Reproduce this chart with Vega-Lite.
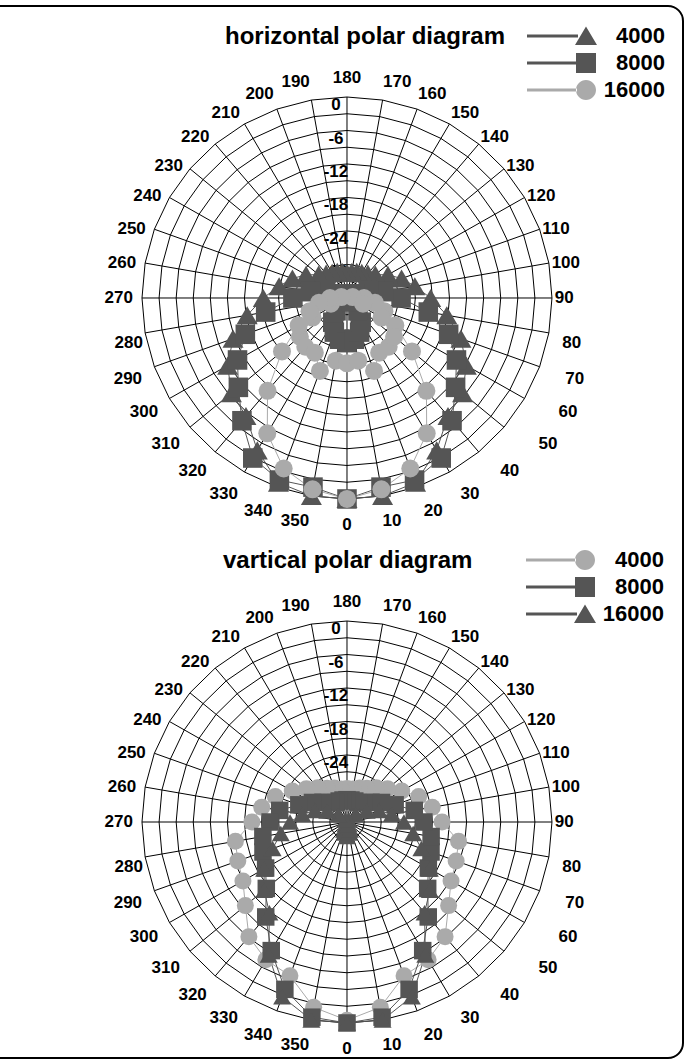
{
  "$schema": "https://vega.github.io/schema/vega-lite/v6.json",
  "width": 703,
  "height": 1052,
  "autosize": {"type": "none"},
  "padding": {"left": -20, "top": 6, "right": 9, "bottom": 5},
  "background": "white",
  "config": {
    "view": {"stroke": "black", "strokeWidth": 2, "cornerRadius": 15, "fill": "white"},
    "text": {"font": "Liberation Sans", "fontWeight": "bold", "fontSize": 17, "color": "black"}
  },
  "datasets": {
    "spokes": [{"a":0},{"a":10},{"a":20},{"a":30},{"a":40},{"a":50},{"a":60},{"a":70},{"a":80},{"a":90},{"a":100},{"a":110},{"a":120},{"a":130},{"a":140},{"a":150},{"a":160},{"a":170},{"a":180},{"a":190},{"a":200},{"a":210},{"a":220},{"a":230},{"a":240},{"a":250},{"a":260},{"a":270},{"a":280},{"a":290},{"a":300},{"a":310},{"a":320},{"a":330},{"a":340},{"a":350}],
    "rings": [
      {"lv":0,"a":[0,10,20,30,40,50,60,70,80,90,100,110,120,130,140,150,160,170,180,190,200,210,220,230,240,250,260,270,280,290,300,310,320,330,340,350,360]},
      {"lv":-3,"a":[0,10,20,30,40,50,60,70,80,90,100,110,120,130,140,150,160,170,180,190,200,210,220,230,240,250,260,270,280,290,300,310,320,330,340,350,360]},
      {"lv":-6,"a":[0,10,20,30,40,50,60,70,80,90,100,110,120,130,140,150,160,170,180,190,200,210,220,230,240,250,260,270,280,290,300,310,320,330,340,350,360]},
      {"lv":-9,"a":[0,10,20,30,40,50,60,70,80,90,100,110,120,130,140,150,160,170,180,190,200,210,220,230,240,250,260,270,280,290,300,310,320,330,340,350,360]},
      {"lv":-12,"a":[0,10,20,30,40,50,60,70,80,90,100,110,120,130,140,150,160,170,180,190,200,210,220,230,240,250,260,270,280,290,300,310,320,330,340,350,360]},
      {"lv":-15,"a":[0,10,20,30,40,50,60,70,80,90,100,110,120,130,140,150,160,170,180,190,200,210,220,230,240,250,260,270,280,290,300,310,320,330,340,350,360]},
      {"lv":-18,"a":[0,10,20,30,40,50,60,70,80,90,100,110,120,130,140,150,160,170,180,190,200,210,220,230,240,250,260,270,280,290,300,310,320,330,340,350,360]},
      {"lv":-21,"a":[0,10,20,30,40,50,60,70,80,90,100,110,120,130,140,150,160,170,180,190,200,210,220,230,240,250,260,270,280,290,300,310,320,330,340,350,360]},
      {"lv":-24,"a":[0,10,20,30,40,50,60,70,80,90,100,110,120,130,140,150,160,170,180,190,200,210,220,230,240,250,260,270,280,290,300,310,320,330,340,350,360]},
      {"lv":-27,"a":[0,10,20,30,40,50,60,70,80,90,100,110,120,130,140,150,160,170,180,190,200,210,220,230,240,250,260,270,280,290,300,310,320,330,340,350,360]},
      {"lv":-30,"a":[0,10,20,30,40,50,60,70,80,90,100,110,120,130,140,150,160,170,180,190,200,210,220,230,240,250,260,270,280,290,300,310,320,330,340,350,360]},
      {"lv":-33,"a":[0,10,20,30,40,50,60,70,80,90,100,110,120,130,140,150,160,170,180,190,200,210,220,230,240,250,260,270,280,290,300,310,320,330,340,350,360]}
    ],
    "rlab": [{"lv":0,"t":"0"},{"lv":-6,"t":"-6"},{"lv":-12,"t":"-12"},{"lv":-18,"t":"-18"},{"lv":-24,"t":"-24"},{"lv":-30,"t":"-30"}],
    "pts": [
      {"d":"h","s":"4000","a":0,"v":0},{"d":"h","s":"4000","a":10,"v":0},{"d":"h","s":"4000","a":20,"v":-0.8},{"d":"h","s":"4000","a":30,"v":-4.5},{"d":"h","s":"4000","a":40,"v":-8.4},{"d":"h","s":"4000","a":50,"v":-9.5},{"d":"h","s":"4000","a":60,"v":-11.8},{"d":"h","s":"4000","a":70,"v":-14.7},{"d":"h","s":"4000","a":80,"v":-18.2},{"d":"h","s":"4000","a":90,"v":-21.3},{"d":"h","s":"4000","a":100,"v":-23.9},{"d":"h","s":"4000","a":110,"v":-25.8},{"d":"h","s":"4000","a":120,"v":-27.7},{"d":"h","s":"4000","a":130,"v":-29.5},{"d":"h","s":"4000","a":140,"v":-30.3},{"d":"h","s":"4000","a":150,"v":-30.8},{"d":"h","s":"4000","a":160,"v":-31},{"d":"h","s":"4000","a":170,"v":-31.3},{"d":"h","s":"4000","a":180,"v":-31.5},{"d":"h","s":"4000","a":190,"v":-31.3},{"d":"h","s":"4000","a":200,"v":-31},{"d":"h","s":"4000","a":210,"v":-30.8},{"d":"h","s":"4000","a":220,"v":-30.3},{"d":"h","s":"4000","a":230,"v":-29.5},{"d":"h","s":"4000","a":240,"v":-27.7},{"d":"h","s":"4000","a":250,"v":-25.8},{"d":"h","s":"4000","a":260,"v":-23.9},{"d":"h","s":"4000","a":270,"v":-21.3},{"d":"h","s":"4000","a":280,"v":-18.2},{"d":"h","s":"4000","a":290,"v":-14.7},{"d":"h","s":"4000","a":300,"v":-11.8},{"d":"h","s":"4000","a":310,"v":-9.5},{"d":"h","s":"4000","a":320,"v":-8.4},{"d":"h","s":"4000","a":330,"v":-4.5},{"d":"h","s":"4000","a":340,"v":-0.8},{"d":"h","s":"4000","a":350,"v":0},{"d":"h","s":"4000","a":360,"v":0},
      {"d":"h","s":"8000","a":0,"v":0},{"d":"h","s":"8000","a":10,"v":-1.6},{"d":"h","s":"8000","a":20,"v":-1.3},{"d":"h","s":"8000","a":30,"v":-2.9},{"d":"h","s":"8000","a":40,"v":-7.3},{"d":"h","s":"8000","a":50,"v":-11.1},{"d":"h","s":"8000","a":60,"v":-13.8},{"d":"h","s":"8000","a":70,"v":-17},{"d":"h","s":"8000","a":80,"v":-21.5},{"d":"h","s":"8000","a":90,"v":-26.5},{"d":"h","s":"8000","a":100,"v":-29.5},{"d":"h","s":"8000","a":110,"v":-32},{"d":"h","s":"8000","a":120,"v":-34.5},{"d":"h","s":"8000","a":130,"v":-37},{"d":"h","s":"8000","a":140,"v":-39},{"d":"h","s":"8000","a":150,"v":-41},{"d":"h","s":"8000","a":160,"v":-42.5},{"d":"h","s":"8000","a":170,"v":-43.5},{"d":"h","s":"8000","a":180,"v":-44},{"d":"h","s":"8000","a":190,"v":-43.5},{"d":"h","s":"8000","a":200,"v":-42.5},{"d":"h","s":"8000","a":210,"v":-41},{"d":"h","s":"8000","a":220,"v":-39},{"d":"h","s":"8000","a":230,"v":-37},{"d":"h","s":"8000","a":240,"v":-34.5},{"d":"h","s":"8000","a":250,"v":-32},{"d":"h","s":"8000","a":260,"v":-29.5},{"d":"h","s":"8000","a":270,"v":-26.5},{"d":"h","s":"8000","a":280,"v":-21.5},{"d":"h","s":"8000","a":290,"v":-17},{"d":"h","s":"8000","a":300,"v":-13.8},{"d":"h","s":"8000","a":310,"v":-11.1},{"d":"h","s":"8000","a":320,"v":-7.3},{"d":"h","s":"8000","a":330,"v":-2.9},{"d":"h","s":"8000","a":340,"v":-1.3},{"d":"h","s":"8000","a":350,"v":-1.6},{"d":"h","s":"8000","a":360,"v":0},
      {"d":"h","s":"16000","a":0,"v":0},{"d":"h","s":"16000","a":10,"v":-1.2},{"d":"h","s":"16000","a":20,"v":-3.5},{"d":"h","s":"16000","a":30,"v":-8},{"d":"h","s":"16000","a":40,"v":-14.3},{"d":"h","s":"16000","a":50,"v":-21.1},{"d":"h","s":"16000","a":60,"v":-26.2},{"d":"h","s":"16000","a":70,"v":-29},{"d":"h","s":"16000","a":80,"v":-31},{"d":"h","s":"16000","a":90,"v":-33},{"d":"h","s":"16000","a":100,"v":-35},{"d":"h","s":"16000","a":110,"v":-39},{"d":"h","s":"16000","a":120,"v":-43},{"d":"h","s":"16000","a":130,"v":-46.8},{"d":"h","s":"16000","a":140,"v":-47.4},{"d":"h","s":"16000","a":150,"v":-47.3},{"d":"h","s":"16000","a":160,"v":-49.9},{"d":"h","s":"16000","a":170,"v":-47.4},{"d":"h","s":"16000","a":180,"v":-47.7},{"d":"h","s":"16000","a":190,"v":-47.4},{"d":"h","s":"16000","a":200,"v":-49.9},{"d":"h","s":"16000","a":210,"v":-47.3},{"d":"h","s":"16000","a":220,"v":-47.4},{"d":"h","s":"16000","a":230,"v":-46.8},{"d":"h","s":"16000","a":240,"v":-43},{"d":"h","s":"16000","a":250,"v":-39},{"d":"h","s":"16000","a":260,"v":-35},{"d":"h","s":"16000","a":270,"v":-33},{"d":"h","s":"16000","a":280,"v":-31},{"d":"h","s":"16000","a":290,"v":-29},{"d":"h","s":"16000","a":300,"v":-26.2},{"d":"h","s":"16000","a":310,"v":-21.1},{"d":"h","s":"16000","a":320,"v":-14.3},{"d":"h","s":"16000","a":330,"v":-8},{"d":"h","s":"16000","a":340,"v":-3.5},{"d":"h","s":"16000","a":350,"v":-1.2},{"d":"h","s":"16000","a":360,"v":0},
      {"d":"v","s":"4000","a":0,"v":-0.5},{"d":"v","s":"4000","a":10,"v":-2.3},{"d":"v","s":"4000","a":20,"v":-6.7},{"d":"v","s":"4000","a":30,"v":-7.5},{"d":"v","s":"4000","a":40,"v":-9.2},{"d":"v","s":"4000","a":50,"v":-12.7},{"d":"v","s":"4000","a":60,"v":-14.9},{"d":"v","s":"4000","a":70,"v":-15.6},{"d":"v","s":"4000","a":80,"v":-16.1},{"d":"v","s":"4000","a":90,"v":-19.3},{"d":"v","s":"4000","a":100,"v":-20.8},{"d":"v","s":"4000","a":110,"v":-22.6},{"d":"v","s":"4000","a":120,"v":-24.9},{"d":"v","s":"4000","a":130,"v":-26.7},{"d":"v","s":"4000","a":140,"v":-28},{"d":"v","s":"4000","a":150,"v":-29},{"d":"v","s":"4000","a":160,"v":-29.5},{"d":"v","s":"4000","a":170,"v":-30},{"d":"v","s":"4000","a":180,"v":-30},{"d":"v","s":"4000","a":190,"v":-30},{"d":"v","s":"4000","a":200,"v":-29.5},{"d":"v","s":"4000","a":210,"v":-29},{"d":"v","s":"4000","a":220,"v":-28},{"d":"v","s":"4000","a":230,"v":-26.7},{"d":"v","s":"4000","a":240,"v":-24.9},{"d":"v","s":"4000","a":250,"v":-22.6},{"d":"v","s":"4000","a":260,"v":-20.8},{"d":"v","s":"4000","a":270,"v":-19.3},{"d":"v","s":"4000","a":280,"v":-16.1},{"d":"v","s":"4000","a":290,"v":-15.6},{"d":"v","s":"4000","a":300,"v":-14.9},{"d":"v","s":"4000","a":310,"v":-12.7},{"d":"v","s":"4000","a":320,"v":-9.2},{"d":"v","s":"4000","a":330,"v":-7.5},{"d":"v","s":"4000","a":340,"v":-6.7},{"d":"v","s":"4000","a":350,"v":-2.3},{"d":"v","s":"4000","a":360,"v":-0.5},
      {"d":"v","s":"8000","a":0,"v":0},{"d":"v","s":"8000","a":10,"v":-0.5},{"d":"v","s":"8000","a":20,"v":-4.1},{"d":"v","s":"8000","a":30,"v":-9.4},{"d":"v","s":"8000","a":40,"v":-13.8},{"d":"v","s":"8000","a":50,"v":-17.5},{"d":"v","s":"8000","a":60,"v":-19.5},{"d":"v","s":"8000","a":70,"v":-20.3},{"d":"v","s":"8000","a":80,"v":-21},{"d":"v","s":"8000","a":90,"v":-22.5},{"d":"v","s":"8000","a":100,"v":-24},{"d":"v","s":"8000","a":110,"v":-27},{"d":"v","s":"8000","a":120,"v":-29},{"d":"v","s":"8000","a":130,"v":-30.5},{"d":"v","s":"8000","a":140,"v":-31.5},{"d":"v","s":"8000","a":150,"v":-32},{"d":"v","s":"8000","a":160,"v":-32},{"d":"v","s":"8000","a":170,"v":-32},{"d":"v","s":"8000","a":180,"v":-32},{"d":"v","s":"8000","a":190,"v":-32},{"d":"v","s":"8000","a":200,"v":-32},{"d":"v","s":"8000","a":210,"v":-32},{"d":"v","s":"8000","a":220,"v":-31.5},{"d":"v","s":"8000","a":230,"v":-30.5},{"d":"v","s":"8000","a":240,"v":-29},{"d":"v","s":"8000","a":250,"v":-27},{"d":"v","s":"8000","a":260,"v":-24},{"d":"v","s":"8000","a":270,"v":-22.5},{"d":"v","s":"8000","a":280,"v":-21},{"d":"v","s":"8000","a":290,"v":-20.3},{"d":"v","s":"8000","a":300,"v":-19.5},{"d":"v","s":"8000","a":310,"v":-17.5},{"d":"v","s":"8000","a":320,"v":-13.8},{"d":"v","s":"8000","a":330,"v":-9.4},{"d":"v","s":"8000","a":340,"v":-4.1},{"d":"v","s":"8000","a":350,"v":-0.5},{"d":"v","s":"8000","a":360,"v":0},
      {"d":"v","s":"16000","a":0,"v":0},{"d":"v","s":"16000","a":10,"v":0},{"d":"v","s":"16000","a":20,"v":-2.7},{"d":"v","s":"16000","a":30,"v":-8.5},{"d":"v","s":"16000","a":40,"v":-14.8},{"d":"v","s":"16000","a":50,"v":-17},{"d":"v","s":"16000","a":60,"v":-19.2},{"d":"v","s":"16000","a":70,"v":-22.1},{"d":"v","s":"16000","a":80,"v":-24.2},{"d":"v","s":"16000","a":90,"v":-26},{"d":"v","s":"16000","a":100,"v":-28},{"d":"v","s":"16000","a":110,"v":-30},{"d":"v","s":"16000","a":120,"v":-32},{"d":"v","s":"16000","a":130,"v":-34},{"d":"v","s":"16000","a":140,"v":-35.5},{"d":"v","s":"16000","a":150,"v":-36.5},{"d":"v","s":"16000","a":160,"v":-37.5},{"d":"v","s":"16000","a":170,"v":-38},{"d":"v","s":"16000","a":180,"v":-38.6},{"d":"v","s":"16000","a":190,"v":-38},{"d":"v","s":"16000","a":200,"v":-37.5},{"d":"v","s":"16000","a":210,"v":-36.5},{"d":"v","s":"16000","a":220,"v":-35.5},{"d":"v","s":"16000","a":230,"v":-34},{"d":"v","s":"16000","a":240,"v":-32},{"d":"v","s":"16000","a":250,"v":-30},{"d":"v","s":"16000","a":260,"v":-28},{"d":"v","s":"16000","a":270,"v":-26},{"d":"v","s":"16000","a":280,"v":-24.2},{"d":"v","s":"16000","a":290,"v":-22.1},{"d":"v","s":"16000","a":300,"v":-19.2},{"d":"v","s":"16000","a":310,"v":-17},{"d":"v","s":"16000","a":320,"v":-14.8},{"d":"v","s":"16000","a":330,"v":-8.5},{"d":"v","s":"16000","a":340,"v":-2.7},{"d":"v","s":"16000","a":350,"v":0},{"d":"v","s":"16000","a":360,"v":0}
    ]
  },
  "resolve": {"scale": {"color": "independent", "shape": "independent", "size": "independent"}},
  "encoding": {
    "x": {"type": "quantitative", "scale": {"domain": [-64.45, 59.01], "nice": false, "zero": false}, "axis": null},
    "y": {"type": "quantitative", "scale": {"domain": [-136.13, 52.3], "nice": false, "zero": false}, "axis": null}
  },
  "layer": [
    {
      "data": {"name": "rings"},
      "transform": [
        {"flatten": ["a"]},
        {"calculate": "(datum.lv + 36) * sin(datum.a * PI / 180)", "as": "x"},
        {"calculate": "-(datum.lv + 36) * cos(datum.a * PI / 180)", "as": "y"},
        {"calculate": "datum.y - 93.86", "as": "y2d"}
      ],
      "layer": [
        {
          "mark": {"type": "line", "color": "black", "strokeWidth": 1},
          "encoding": {
            "x": {"field": "x", "type": "quantitative"},
            "y": {"field": "y", "type": "quantitative"},
            "detail": {"field": "lv", "type": "nominal"},
            "order": {"field": "a", "type": "quantitative"}
          }
        },
        {
          "mark": {"type": "line", "color": "black", "strokeWidth": 1},
          "encoding": {
            "x": {"field": "x", "type": "quantitative"},
            "y": {"field": "y2d", "type": "quantitative"},
            "detail": {"field": "lv", "type": "nominal"},
            "order": {"field": "a", "type": "quantitative"}
          }
        }
      ]
    },
    {
      "data": {"name": "spokes"},
      "transform": [
        {"calculate": "36 * sin(datum.a * PI / 180)", "as": "x"},
        {"calculate": "-36 * cos(datum.a * PI / 180)", "as": "y"},
        {"calculate": "datum.y - 93.86", "as": "y2d"},
        {"calculate": "0", "as": "c"},
        {"calculate": "-93.86", "as": "c2"}
      ],
      "layer": [
        {
          "mark": {"type": "rule", "color": "black", "strokeWidth": 1},
          "encoding": {
            "x": {"field": "x", "type": "quantitative"},
            "y": {"field": "y", "type": "quantitative"},
            "x2": {"field": "c"},
            "y2": {"field": "c"}
          }
        },
        {
          "mark": {"type": "rule", "color": "black", "strokeWidth": 1},
          "encoding": {
            "x": {"field": "x", "type": "quantitative"},
            "y": {"field": "y2d", "type": "quantitative"},
            "x2": {"field": "c"},
            "y2": {"field": "c2"}
          }
        }
      ]
    },
    {
      "data": {"name": "rlab"},
      "transform": [
        {"calculate": "datum.lv + 36", "as": "y"},
        {"calculate": "datum.lv + 36 - 93.86", "as": "y2d"},
        {"calculate": "0", "as": "x"}
      ],
      "layer": [
        {
          "mark": {"type": "text", "align": "center", "baseline": "middle", "dx": -11, "dy": 8},
          "encoding": {
            "x": {"field": "x", "type": "quantitative"},
            "y": {"field": "y", "type": "quantitative"},
            "text": {"field": "t", "type": "nominal"}
          }
        },
        {
          "mark": {"type": "text", "align": "center", "baseline": "middle", "dx": -11, "dy": 8},
          "encoding": {
            "x": {"field": "x", "type": "quantitative"},
            "y": {"field": "y2d", "type": "quantitative"},
            "text": {"field": "t", "type": "nominal"}
          }
        }
      ]
    },
    {
      "data": {"name": "spokes"},
      "transform": [
        {"calculate": "cos(datum.a * PI / 180)", "as": "c"},
        {"calculate": "(datum.a == 0 || datum.a == 180) ? 0 : sin(datum.a * PI / 180) * (datum.a < 90 ? [0, 36, 39.4, 39.9, 41.9, 43.9, 42.9, 40.8, 38.4][datum.a / 10] : (datum.a < 180 ? 36.5 : (datum.a <= 270 ? 37.6 : (datum.a == 280 ? 36.4 : 38.3))))", "as": "x"},
        {"calculate": "datum.c > 0.05 ? -(36 * datum.c + 1.79 + 2.87 * datum.c * datum.c) : (-36 * datum.c + 3.4 * datum.c * datum.c * datum.c * datum.c)", "as": "y"},
        {"calculate": "datum.y - 93.86", "as": "y2d"}
      ],
      "layer": [
        {
          "transform": [{"filter": "datum.a > 0 && datum.a < 180"}],
          "mark": {"type": "text", "align": "left", "baseline": "middle"},
          "encoding": {
            "x": {"field": "x", "type": "quantitative"},
            "y": {"field": "y", "type": "quantitative"},
            "text": {"field": "a", "type": "nominal"}
          }
        },
        {
          "transform": [{"filter": "datum.a > 180"}],
          "mark": {"type": "text", "align": "right", "baseline": "middle"},
          "encoding": {
            "x": {"field": "x", "type": "quantitative"},
            "y": {"field": "y", "type": "quantitative"},
            "text": {"field": "a", "type": "nominal"}
          }
        },
        {
          "transform": [{"filter": "datum.a == 0 || datum.a == 180"}],
          "mark": {"type": "text", "align": "center", "baseline": "middle"},
          "encoding": {
            "x": {"field": "x", "type": "quantitative"},
            "y": {"field": "y", "type": "quantitative"},
            "text": {"field": "a", "type": "nominal"}
          }
        },
        {
          "transform": [{"filter": "datum.a > 0 && datum.a < 180"}],
          "mark": {"type": "text", "align": "left", "baseline": "middle"},
          "encoding": {
            "x": {"field": "x", "type": "quantitative"},
            "y": {"field": "y2d", "type": "quantitative"},
            "text": {"field": "a", "type": "nominal"}
          }
        },
        {
          "transform": [{"filter": "datum.a > 180"}],
          "mark": {"type": "text", "align": "right", "baseline": "middle"},
          "encoding": {
            "x": {"field": "x", "type": "quantitative"},
            "y": {"field": "y2d", "type": "quantitative"},
            "text": {"field": "a", "type": "nominal"}
          }
        },
        {
          "transform": [{"filter": "datum.a == 0 || datum.a == 180"}],
          "mark": {"type": "text", "align": "center", "baseline": "middle"},
          "encoding": {
            "x": {"field": "x", "type": "quantitative"},
            "y": {"field": "y2d", "type": "quantitative"},
            "text": {"field": "a", "type": "nominal"}
          }
        }
      ]
    },
    {
      "data": {"name": "pts"},
      "transform": [
        {"filter": "datum.d == 'h'"},
        {"calculate": "(datum.v + 36) * sin(datum.a * PI / 180)", "as": "x"},
        {"calculate": "-(datum.v + 36) * cos(datum.a * PI / 180)", "as": "y"}
      ],
      "mark": {"type": "line", "strokeWidth": 1},
      "encoding": {
        "x": {"field": "x", "type": "quantitative"},
        "y": {"field": "y", "type": "quantitative"},
        "color": {"field": "s", "type": "nominal", "scale": {"domain": ["4000", "8000", "16000"], "range": ["#555555", "#555555", "#aaaaaa"]}, "legend": null},
        "detail": {"field": "s", "type": "nominal"},
        "order": {"field": "a", "type": "quantitative"}
      }
    },
    {
      "data": {"name": "pts"},
      "transform": [
        {"filter": "datum.d == 'h' && datum.a < 360"},
        {"calculate": "(datum.v + 36) * sin(datum.a * PI / 180)", "as": "x"},
        {"calculate": "-(datum.v + 36) * cos(datum.a * PI / 180)", "as": "y"}
      ],
      "mark": {"type": "point", "filled": true, "opacity": 1, "strokeWidth": 0},
      "encoding": {
        "x": {"field": "x", "type": "quantitative"},
        "y": {"field": "y", "type": "quantitative"},
        "color": {"field": "s", "type": "nominal", "scale": {"domain": ["4000", "8000", "16000"], "range": ["#555555", "#555555", "#aaaaaa"]}, "legend": null},
        "shape": {"field": "s", "type": "nominal", "scale": {"domain": ["4000", "8000", "16000"], "range": ["triangle-up", "square", "circle"]}, "legend": null},
        "size": {"field": "s", "type": "nominal", "scale": {"domain": ["4000", "8000", "16000"], "range": [441, 324, 289]}, "legend": null}
      }
    },
    {
      "data": {"name": "pts"},
      "transform": [
        {"filter": "datum.d == 'v'"},
        {"calculate": "(datum.v + 36) * sin(datum.a * PI / 180)", "as": "x"},
        {"calculate": "-(datum.v + 36) * cos(datum.a * PI / 180) - 93.86", "as": "y"}
      ],
      "mark": {"type": "line", "strokeWidth": 1},
      "encoding": {
        "x": {"field": "x", "type": "quantitative"},
        "y": {"field": "y", "type": "quantitative"},
        "color": {"field": "s", "type": "nominal", "scale": {"domain": ["4000", "8000", "16000"], "range": ["#aaaaaa", "#555555", "#555555"]}, "legend": null},
        "detail": {"field": "s", "type": "nominal"},
        "order": {"field": "a", "type": "quantitative"}
      }
    },
    {
      "data": {"name": "pts"},
      "transform": [
        {"filter": "datum.d == 'v' && datum.a < 360"},
        {"calculate": "(datum.v + 36) * sin(datum.a * PI / 180)", "as": "x"},
        {"calculate": "-(datum.v + 36) * cos(datum.a * PI / 180) - 93.86", "as": "y"}
      ],
      "mark": {"type": "point", "filled": true, "opacity": 1, "strokeWidth": 0},
      "encoding": {
        "x": {"field": "x", "type": "quantitative"},
        "y": {"field": "y", "type": "quantitative"},
        "color": {"field": "s", "type": "nominal", "scale": {"domain": ["4000", "8000", "16000"], "range": ["#aaaaaa", "#555555", "#555555"]}, "legend": null},
        "shape": {"field": "s", "type": "nominal", "scale": {"domain": ["4000", "8000", "16000"], "range": ["circle", "square", "triangle-up"]}, "legend": null},
        "size": {"field": "s", "type": "nominal", "scale": {"domain": ["4000", "8000", "16000"], "range": [289, 324, 441]}, "legend": null}
      }
    },
    {
      "data": {"values": [{"s": "4000"}, {"s": "8000"}, {"s": "16000"}]},
      "mark": {"type": "point", "filled": true, "opacity": 0},
      "encoding": {
        "color": {"field": "s", "type": "nominal", "scale": {"domain": ["4000", "8000", "16000"], "range": ["#555555", "#555555", "#aaaaaa"]},
          "legend": {"title": "horizontal polar diagram", "orient": "none", "legendX": 245, "legendY": 19, "titleOrient": "left", "titleAnchor": "start", "titleBaseline": "top", "titlePadding": 69, "titleFont": "Liberation Sans", "titleFontSize": 24, "titleFontWeight": "bold", "titleColor": "black", "titleLimit": 500, "labelFont": "Liberation Sans", "labelFontSize": 22, "labelFontWeight": "bold", "labelColor": "black", "labelAlign": "right", "labelOffset": 68, "labelLimit": 300, "symbolSize": 400, "symbolOpacity": 1, "symbolStrokeWidth": 0, "rowPadding": 5, "padding": 0}},
        "shape": {"field": "s", "type": "nominal", "scale": {"domain": ["4000", "8000", "16000"], "range": ["M-5.9,-0.15H-0.8V0.15H-5.9Z M0,-0.95L1.1,0.9L-1.1,0.9Z", "M-5.9,-0.15H-0.9V0.15H-5.9Z M-1,-1H1V1H-1Z", "M-5.9,-0.15H-0.9V0.15H-5.9Z M-1,0A1,1,0,1,0,1,0A1,1,0,1,0,-1,0Z"]},
          "legend": {"title": "horizontal polar diagram", "orient": "none", "legendX": 245, "legendY": 19, "titleOrient": "left", "titleAnchor": "start", "titleBaseline": "top", "titlePadding": 69, "titleFont": "Liberation Sans", "titleFontSize": 24, "titleFontWeight": "bold", "titleColor": "black", "titleLimit": 500, "labelFont": "Liberation Sans", "labelFontSize": 22, "labelFontWeight": "bold", "labelColor": "black", "labelAlign": "right", "labelOffset": 68, "labelLimit": 300, "symbolSize": 400, "symbolOpacity": 1, "symbolStrokeWidth": 0, "rowPadding": 5, "padding": 0}}
      }
    },
    {
      "data": {"values": [{"s": "4000"}, {"s": "8000"}, {"s": "16000"}]},
      "mark": {"type": "point", "filled": true, "opacity": 0},
      "encoding": {
        "color": {"field": "s", "type": "nominal", "scale": {"domain": ["4000", "8000", "16000"], "range": ["#aaaaaa", "#555555", "#555555"]},
          "legend": {"title": "vartical polar diagram", "orient": "none", "legendX": 243, "legendY": 543, "titleOrient": "left", "titleAnchor": "start", "titleBaseline": "top", "titlePadding": 101, "titleFont": "Liberation Sans", "titleFontSize": 24, "titleFontWeight": "bold", "titleColor": "black", "titleLimit": 500, "labelFont": "Liberation Sans", "labelFontSize": 22, "labelFontWeight": "bold", "labelColor": "black", "labelAlign": "right", "labelOffset": 68, "labelLimit": 300, "symbolSize": 400, "symbolOpacity": 1, "symbolStrokeWidth": 0, "rowPadding": 5, "padding": 0}},
        "shape": {"field": "s", "type": "nominal", "scale": {"domain": ["4000", "8000", "16000"], "range": ["M-5.9,-0.15H-0.9V0.15H-5.9Z M-1,0A1,1,0,1,0,1,0A1,1,0,1,0,-1,0Z", "M-5.9,-0.15H-0.9V0.15H-5.9Z M-1,-1H1V1H-1Z", "M-5.9,-0.15H-0.8V0.15H-5.9Z M0,-0.95L1.1,0.9L-1.1,0.9Z"]},
          "legend": {"title": "vartical polar diagram", "orient": "none", "legendX": 243, "legendY": 543, "titleOrient": "left", "titleAnchor": "start", "titleBaseline": "top", "titlePadding": 101, "titleFont": "Liberation Sans", "titleFontSize": 24, "titleFontWeight": "bold", "titleColor": "black", "titleLimit": 500, "labelFont": "Liberation Sans", "labelFontSize": 22, "labelFontWeight": "bold", "labelColor": "black", "labelAlign": "right", "labelOffset": 68, "labelLimit": 300, "symbolSize": 400, "symbolOpacity": 1, "symbolStrokeWidth": 0, "rowPadding": 5, "padding": 0}}
      }
    }
  ]
}
